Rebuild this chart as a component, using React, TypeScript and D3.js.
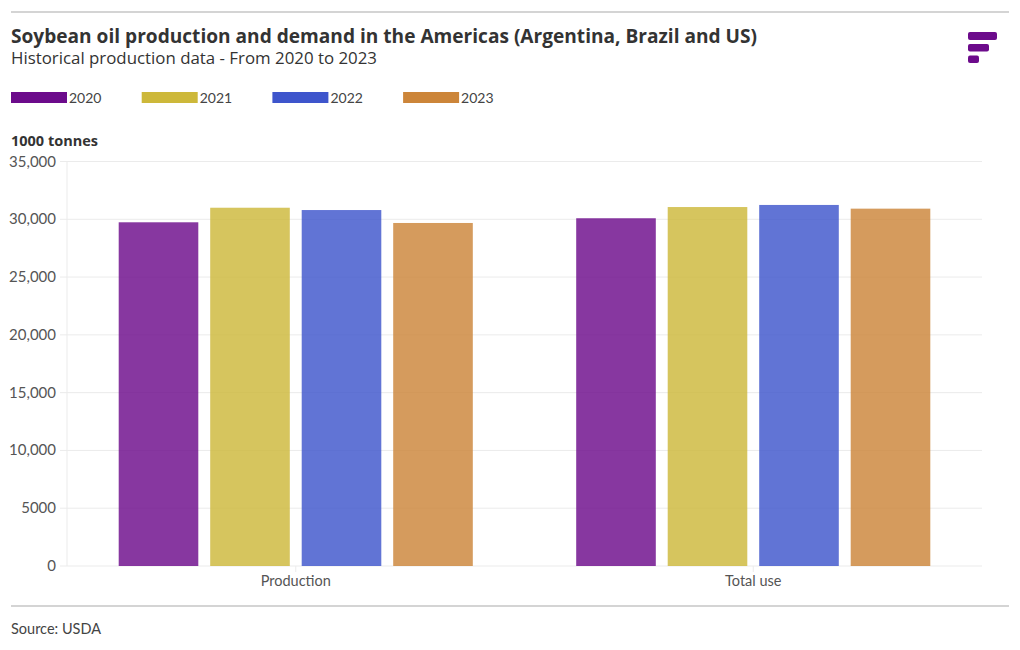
import React, { useEffect, useRef } from "react";
import * as d3 from "d3";

const categories = ["Production", "Total use"];
const years = ["2020", "2021", "2022", "2023"];
const values2020 = [29740, 30090];
const values2021 = [31000, 31060];
const values2022 = [30800, 31240];
const values2023 = [29680, 30920];
const yTicks = [0, 5000, 10000, 15000, 20000, 25000, 30000, 35000];
const colors = ["#6c0b8b", "#cdb83a", "#3e55cc", "#cc8539"];

const W = 1020;
const H = 650;
const FONT = "'Open Sans', Lato, sans-serif";
const FONT_LIGHT = "Lato, 'Open Sans', sans-serif";

export default function App() {
  const ref = useRef<SVGSVGElement>(null);
  useEffect(() => {
    const svg = d3.select(ref.current);
    svg.selectAll("*").remove();
    const series = [values2020, values2021, values2022, values2023];

    const left = 67, right = 982, top = 161.5, bottom = 566;

    svg.append("line").attr("x1", 11).attr("x2", 1009).attr("y1", 12).attr("y2", 12).attr("stroke", "#d4d4d4").attr("stroke-width", 2);
    svg.append("line").attr("x1", 11).attr("x2", 1009).attr("y1", 606).attr("y2", 606).attr("stroke", "#d4d4d4").attr("stroke-width", 2);

    svg.append("text").attr("x", 11).attr("y", 43).attr("font-family", FONT).attr("font-weight", 700).attr("font-size", 19).attr("fill", "#333")
      .attr("textLength", 746).attr("lengthAdjust", "spacingAndGlyphs")
      .text("Soybean oil production and demand in the Americas (Argentina, Brazil and US)");
    svg.append("text").attr("x", 11).attr("y", 64).attr("font-family", FONT).attr("font-size", 16).attr("fill", "#333")
      .attr("textLength", 366).attr("lengthAdjust", "spacingAndGlyphs")
      .text("Historical production data - From 2020 to 2023");

    const logo = svg.append("g").attr("fill", "#6c0b8b");
    logo.append("rect").attr("x", 968).attr("y", 32).attr("width", 29).attr("height", 8).attr("rx", 2);
    logo.append("rect").attr("x", 968).attr("y", 44).attr("width", 21).attr("height", 7.5).attr("rx", 2);
    logo.append("rect").attr("x", 968).attr("y", 55.5).attr("width", 11).attr("height", 7.5).attr("rx", 2);

    years.forEach((yr, i) => {
      const x0 = 11 + i * 130.7;
      svg.append("rect").attr("x", x0).attr("y", 92).attr("width", 56).attr("height", 11).attr("fill", colors[i]);
      svg.append("text").attr("x", x0 + 58).attr("y", 102.5).attr("font-family", FONT_LIGHT).attr("font-size", 14).attr("fill", "#444").text(yr);
    });

    svg.append("text").attr("x", 11).attr("y", 146).attr("font-family", FONT).attr("font-weight", 700).attr("font-size", 14.5).attr("fill", "#333").text("1000 tonnes");

    const y = d3.scaleLinear().domain([0, 35000]).range([bottom, top]);
    const x0 = d3.scaleBand().domain(categories).range([left, right]).paddingInner(0).paddingOuter(0);
    const x1 = d3.scaleBand().domain(years).range([0, x0.bandwidth()]).paddingInner(0.13).paddingOuter(0.565);

    yTicks.forEach((t) => {
      svg.append("line").attr("x1", left - 7).attr("x2", right).attr("y1", y(t)).attr("y2", y(t)).attr("stroke", "#ebebeb").attr("stroke-width", 1);
      svg.append("text").attr("x", 56).attr("y", y(t) + 5).attr("text-anchor", "end").attr("font-family", FONT_LIGHT).attr("font-size", 15).attr("fill", "#555").text(d3.format(t >= 10000 ? "," : "d")(t));
    });
    svg.append("line").attr("x1", left).attr("x2", left).attr("y1", top).attr("y2", bottom).attr("stroke", "#ebebeb");

    categories.forEach((c, ci) => {
      years.forEach((yr, yi) => {
        const v = series[yi][ci];
        svg.append("rect")
          .attr("x", (x0(c) as number) + (x1(yr) as number))
          .attr("y", y(v))
          .attr("width", x1.bandwidth())
          .attr("height", bottom - y(v))
          .attr("fill", colors[yi])
          .attr("fill-opacity", 0.82);
      });
      const cx = (x0(c) as number) + x0.bandwidth() / 2;
      svg.append("line").attr("x1", cx).attr("x2", cx).attr("y1", bottom).attr("y2", bottom + 6).attr("stroke", "#ebebeb");
      svg.append("text").attr("x", cx).attr("y", bottom + 20).attr("text-anchor", "middle").attr("font-family", FONT_LIGHT).attr("font-size", 14.5).attr("fill", "#555").text(c);
    });

    svg.append("text").attr("x", 11).attr("y", 634).attr("font-family", FONT_LIGHT).attr("font-size", 14.5).attr("fill", "#444").text("Source: USDA");
  }, []);

  return (
    <div style={{ position: "absolute", left: 0, top: 0 }}>
      <svg ref={ref} width={W} height={H} style={{ display: "block", background: "#fff" }} />
    </div>
  );
}
